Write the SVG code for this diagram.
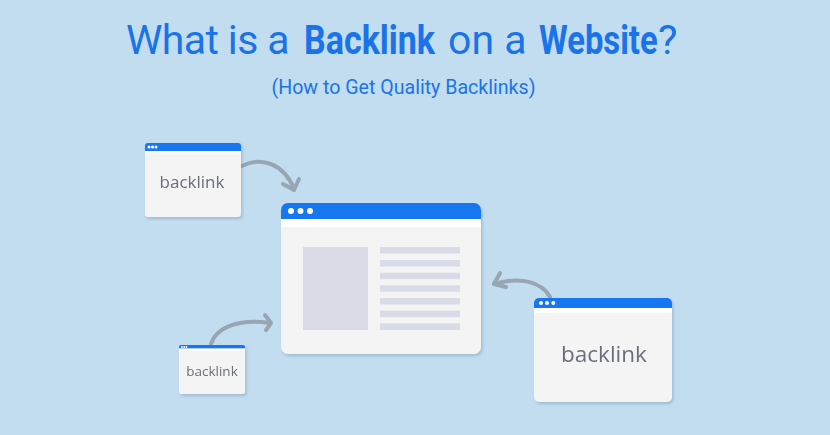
<svg xmlns="http://www.w3.org/2000/svg" width="830" height="435" viewBox="0 0 830 435">
<style>
.hdr{fill:#1877f0}
.strip{fill:#ffffff}
.body{fill:#f4f4f4}
.dot{fill:#ffffff}
.ph{fill:#d9dbe6}
.lbl{font-family:"Open Sans",sans-serif;fill:#6a6e7c;text-anchor:middle}
.conn{fill:none;stroke:#97a6b2;stroke-width:4;stroke-linecap:round;stroke-linejoin:round}
.title{font-family:Roboto,sans-serif;fill:#1a73e8}
.t1{font-size:41px}
.b{font-weight:bold}
</style>
<defs>
<filter id="sh" x="-10%" y="-10%" width="125%" height="130%">
<feDropShadow dx="1.5" dy="2" stdDeviation="1.5" flood-color="#5d7c96" flood-opacity="0.35"/>
</filter>
</defs>
<rect width="830" height="435" fill="#c3ddf0"/>
<g id="title">
<text class="title t1" x="126" y="54" letter-spacing="-0.6">What is a</text>
<text class="title t1 b" transform="matrix(0.83,0,0,1,304,54)">Backlink</text>
<text class="title t1" x="448" y="54" letter-spacing="0">on a</text>
<text class="title t1 b" transform="matrix(0.8,0,0,1,539,54)">Website</text>
<text class="title t1" x="658" y="54">?</text>
<text class="title" x="403.5" y="94" font-size="21" text-anchor="middle" textLength="264" lengthAdjust="spacingAndGlyphs">(How to Get Quality Backlinks)</text>
</g>
<g id="connectors">
<path class="conn" d="M242,166 C262,156 284,164 294,189"/>
<path class="conn" d="M283,184 L294,190 L299,179"/>
<path class="conn" d="M211,344 C216,328 238,318 270,323"/>
<path class="conn" d="M265,315 L271,323 L266,330"/>
<path class="conn" d="M550,297 C542,282 520,276 494,284"/>
<path class="conn" d="M500,273 L494,284 L506,287"/>
</g>
<g id="main-page" filter="url(#sh)">
<path class="body" d="M281,219 H481 V347 a7,7 0 0 1 -7,7 H288 a7,7 0 0 1 -7,-7 Z"/>
<path class="hdr" d="M288,203 H474 a7,7 0 0 1 7,7 V219 H281 V210 a7,7 0 0 1 7,-7 Z"/>
<rect class="strip" x="281" y="219" width="200" height="8"/>
<circle class="dot" cx="291" cy="211" r="3"/>
<circle class="dot" cx="300.5" cy="211" r="3"/>
<circle class="dot" cx="310" cy="211" r="3"/>
<rect class="ph" x="303" y="247" width="65" height="83"/>
<rect class="ph" x="380" y="247" width="80" height="6.5"/>
<rect class="ph" x="380" y="260" width="80" height="6.5"/>
<rect class="ph" x="380" y="272.7" width="80" height="6.5"/>
<rect class="ph" x="380" y="285.3" width="80" height="6.5"/>
<rect class="ph" x="380" y="298" width="80" height="6.5"/>
<rect class="ph" x="380" y="310.7" width="80" height="6.5"/>
<rect class="ph" x="380" y="323.4" width="80" height="6.5"/>
</g>
<g id="backlink-top" filter="url(#sh)">
<path class="body" d="M145,151 H241 V214 a3,3 0 0 1 -3,3 H148 a3,3 0 0 1 -3,-3 Z"/>
<path class="hdr" d="M148,143 H238 a3,3 0 0 1 3,3 V151 H145 V146 a3,3 0 0 1 3,-3 Z"/>
<rect class="strip" x="145" y="151" width="96" height="2.5"/>
<circle class="dot" cx="149" cy="147" r="1.5"/>
<circle class="dot" cx="152.5" cy="147" r="1.5"/>
<circle class="dot" cx="156" cy="147" r="1.5"/>
<text class="lbl" x="192" y="188" font-size="17">backlink</text>
</g>
<g id="backlink-bottom" filter="url(#sh)">
<path class="body" d="M179,351 H245 V392 a2,2 0 0 1 -2,2 H181 a2,2 0 0 1 -2,-2 Z"/>
<path class="hdr" d="M181,345 H243 a2,2 0 0 1 2,2 V348.5 H179 V347 a2,2 0 0 1 2,-2 Z"/>
<rect class="strip" x="179" y="348.5" width="66" height="2.5"/>
<circle class="dot" cx="182" cy="347" r="0.9"/>
<circle class="dot" cx="184.2" cy="347" r="0.9"/>
<circle class="dot" cx="186.4" cy="347" r="0.9"/>
<text class="lbl" x="212" y="376" font-size="13.5">backlink</text>
</g>
<g id="backlink-right" filter="url(#sh)">
<path class="body" d="M534,308 H672 V397 a5,5 0 0 1 -5,5 H539 a5,5 0 0 1 -5,-5 Z"/>
<path class="hdr" d="M539,298 H667 a5,5 0 0 1 5,5 V308 H534 V303 a5,5 0 0 1 5,-5 Z"/>
<rect class="strip" x="534" y="308" width="138" height="5"/>
<circle class="dot" cx="541" cy="303" r="2"/>
<circle class="dot" cx="547" cy="303" r="2"/>
<circle class="dot" cx="553.3" cy="303" r="2"/>
<text class="lbl" x="604" y="362" font-size="22.5">backlink</text>
</g>
</svg>
